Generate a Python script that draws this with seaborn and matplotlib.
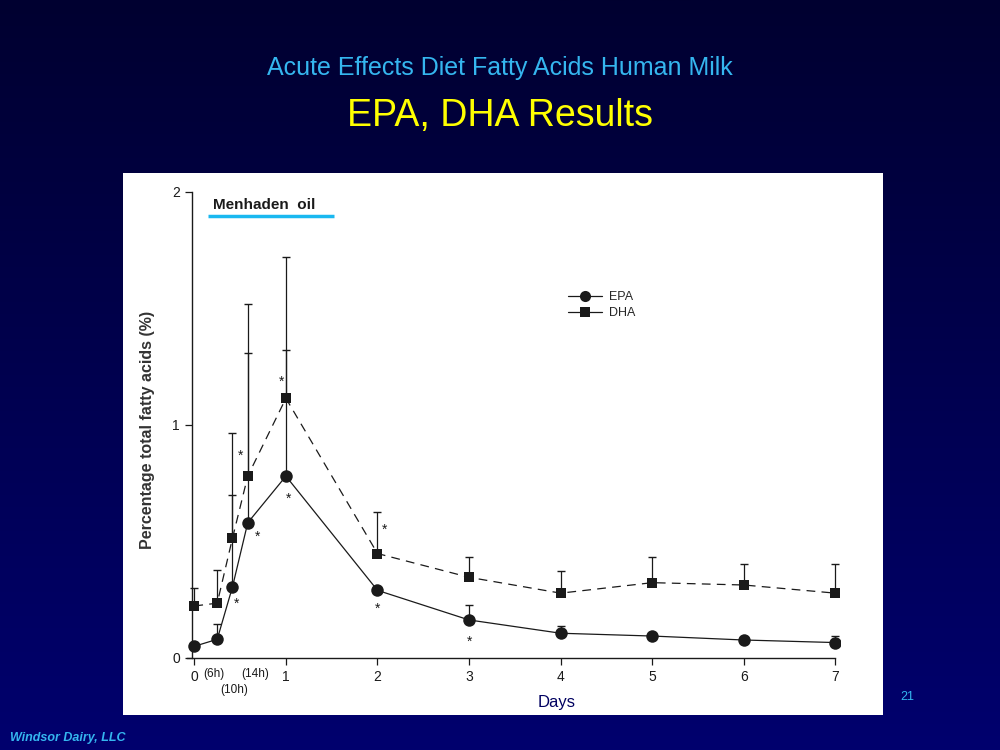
import numpy as np
import pandas as pd
import seaborn as sns
import matplotlib.pyplot as plt
from matplotlib.patches import Rectangle
from matplotlib.lines import Line2D
from matplotlib.colors import LinearSegmentedColormap

sns.set_theme(style="white")
plt.rcParams['font.family'] = ['Liberation Sans', 'DejaVu Sans']

# Data (time in days)
days = [0, 0.25, 0.4167, 0.5833, 1, 2, 3, 4, 5, 6, 7]
epa = [0.05, 0.08, 0.305, 0.58, 0.78, 0.29, 0.163, 0.106, 0.094, 0.077, 0.066]
dha = [0.223, 0.235, 0.514, 0.78, 1.114, 0.448, 0.346, 0.278, 0.323, 0.313, 0.278]
epa_upper = [0.05, 0.146, 0.70, 1.307, 1.32, 0.29, 0.227, 0.137, 0.094, 0.077, 0.094]
dha_upper = [0.30, 0.378, 0.964, 1.518, 1.72, 0.628, 0.435, 0.375, 0.435, 0.402, 0.402]

day_ticks = [0, 1, 2, 3, 4, 5, 6, 7]
hour_ticks = [0.25, 0.4167, 0.5833]
hour_labels = ["(6h)", "(10h)", "(14h)"]
hour_offsets = [(-3, -16), (2, -32), (7, -16)]

# significance stars: (series, day)
stars = [("EPA", 0.4167), ("EPA", 0.5833), ("EPA", 1), ("EPA", 2), ("EPA", 3),
         ("DHA", 0.5833), ("DHA", 1), ("DHA", 2)]
star_offsets = {("EPA", 0.4167): (3, -12), ("EPA", 0.5833): (7, -10), ("EPA", 1): (2, -16),
                ("EPA", 2): (0, -13), ("EPA", 3): (0, -16), ("DHA", 0.5833): (-5, 15),
                ("DHA", 1): (-3, 12), ("DHA", 2): (5, 17)}

df = pd.DataFrame({
    "Days": days * 2,
    "value": epa + dha,
    "series": ["EPA"] * len(days) + ["DHA"] * len(days),
})

fig = plt.figure(figsize=(10, 7.5), dpi=100)

# slide background gradient
bg = fig.add_axes([0, 0, 1, 1], zorder=-10)
cmap = LinearSegmentedColormap.from_list("slide", ["#000030", "#00006e"])
bg.imshow(np.linspace(0, 1, 256).reshape(-1, 1), aspect="auto", cmap=cmap,
          extent=[0, 1, 0, 1])
bg.set_axis_off()

# white panel behind the chart
fig.patches.append(Rectangle((123 / 1000, 1 - 715 / 750), 760 / 1000, 542 / 750,
                             transform=fig.transFigure, facecolor="white",
                             edgecolor="none", zorder=-5))

fig.text(0.5, 1 - 68 / 750, "Acute Effects Diet Fatty Acids Human Milk",
         ha="center", va="center", color="#35b6ef", fontsize=18)
fig.text(0.5, 1 - 116 / 750, "EPA, DHA Results", ha="center", va="center",
         color="#ffff00", fontsize=27)
fig.text(0.907, 1 - 697 / 750, "21", ha="center", va="center", color="#35b6ef", fontsize=9)
fig.text(0.010, 1 - 738 / 750, "Windsor Dairy, LLC", ha="left", va="center",
         color="#35b6ef", fontsize=9, fontweight="bold", fontstyle="italic")
fig.text(0.557, 1 - 702 / 750, "Days", ha="center", va="center", color="#000060", fontsize=12)

ax = fig.add_axes([0.187, 0.1103, 0.653, 0.634])
ax.patch.set_alpha(0)

ink = "#1a1a1a"
sns.lineplot(data=df, x="Days", y="value", hue="series", style="series",
             palette={"EPA": ink, "DHA": ink},
             markers={"EPA": "o", "DHA": "s"},
             dashes={"EPA": "", "DHA": (7, 5)},
             markersize=9, linewidth=0.9, markeredgewidth=0,
             legend=False, ax=ax)
for s in ax.lines:
    if s.get_marker() == "s":
        s.set_markersize(7.5)

ax.errorbar(days, dha, yerr=[np.zeros(len(days)), np.array(dha_upper) - np.array(dha)],
            fmt="none", ecolor=ink, elinewidth=0.9, capsize=3, zorder=1)
ax.errorbar(days, epa, yerr=[np.zeros(len(days)), np.array(epa_upper) - np.array(epa)],
            fmt="none", ecolor=ink, elinewidth=0.9, capsize=3, zorder=1)

series_vals = {"EPA": dict(zip(days, epa)), "DHA": dict(zip(days, dha))}
for key in stars:
    name, d = key
    ax.annotate("*", (d, series_vals[name][d]), xytext=star_offsets[key],
                textcoords="offset points", ha="center", va="center",
                fontsize=10, color=ink)

ax.set_xlim(-0.08, 7.05)
ax.set_ylim(-0.04, 2.0)
for side in ["top", "right"]:
    ax.spines[side].set_visible(False)
ax.spines["left"].set_position(("data", -0.02))
ax.spines["left"].set_bounds(0, 2)
ax.spines["bottom"].set_position(("data", 0))
ax.spines["bottom"].set_bounds(-0.08, 7)
for side in ["left", "bottom"]:
    ax.spines[side].set_color(ink)
    ax.spines[side].set_linewidth(1.0)

ax.set_yticks([0, 1, 2])
ax.set_yticklabels(["0", "1", "2"])
ax.set_xticks(day_ticks)
ax.set_xticklabels([str(d) for d in day_ticks])
ax.tick_params(axis="both", which="major", direction="out", length=5, width=0.9,
               colors=ink, labelsize=10, pad=4)
ax.tick_params(axis="y", left=True)
ax.tick_params(axis="x", bottom=True)

# hour labels under the first day
for t, lab, off in zip(hour_ticks, hour_labels, hour_offsets):
    ax.annotate(lab, (t, 0), xytext=off, textcoords="offset pixels",
                ha="center", va="center", fontsize=8.5, color=ink,
                annotation_clip=False)

ax.set_xlabel("")
ax.set_ylabel("Percentage total fatty acids (%)", fontsize=11.5, fontweight="bold",
              color="#333333", labelpad=12)

# treatment bar
ax.text(0.2, 1.915, "Menhaden  oil", fontsize=11, fontweight="bold", color=ink,
        ha="left", va="bottom")
ax.plot([0.15, 1.52], [1.897, 1.897], color="#1ab8f0", linewidth=2.5, solid_capstyle="butt")

handles = [Line2D([], [], color=ink, marker="o", markersize=8, linewidth=0.9, markeredgewidth=0),
           Line2D([], [], color=ink, marker="s", markersize=6.5, linewidth=0.9, markeredgewidth=0)]
ax.legend(handles, ["EPA", "DHA"], loc="upper left", bbox_to_anchor=(0.568, 1 - 291 / 750),
          bbox_transform=fig.transFigure, frameon=False, fontsize=9, handlelength=2.7,
          handletextpad=0.6, labelspacing=0.35, borderaxespad=0, borderpad=0)

fig.savefig("out.png", dpi=100)
